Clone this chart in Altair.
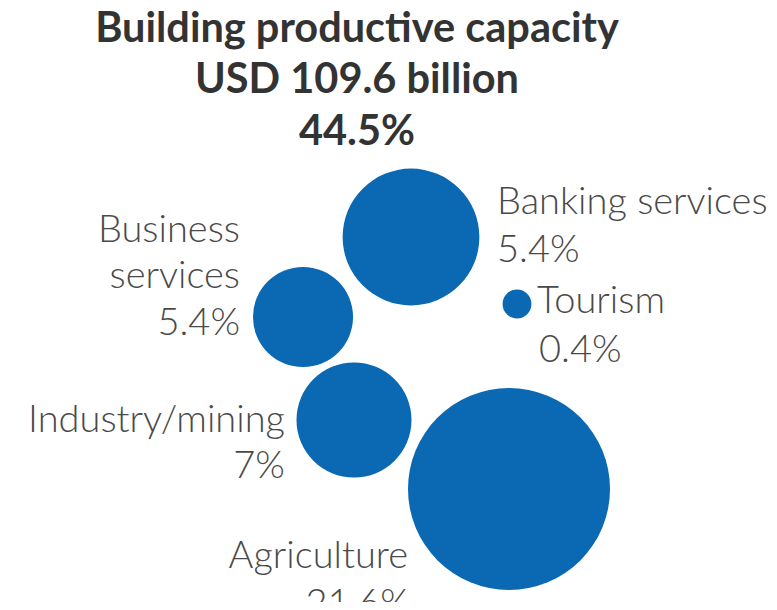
import altair as alt
import pandas as pd

# Bubbles (sector, displayed share, bubble size, layout position)
sectors = ["Agriculture", "Industry/mining", "Business services", "Banking services", "Tourism"]
share_labels = ["21.6%", "7%", "5.4%", "5.4%", "0.4%"]
bubble_size = [21.6, 7.0, 5.3, 9.9, 0.44]
bubble_x = [509, 354, 303, 411, 517]
bubble_y = [489, 420, 317, 237, 304]

# Label lines
label_text = ["Banking services", "5.4%", "Tourism", "0.4%",
              "Business", "services", "5.4%",
              "Industry/mining", "7%", "Agriculture", "21.6%"]
label_x = [497, 497, 537, 539, 240, 240, 240, 285, 285, 408, 410]
label_y = [214, 262, 313, 362, 242, 288, 335, 432, 478, 568, 616]
label_align = ["left", "left", "left", "left", "right", "right", "right",
               "right", "right", "right", "right"]

# Title lines
title_text = ["Building productive capacity", "USD 109.6 billion", "44.5%"]
title_x = [357, 357, 357]
title_y = [42, 93, 145]

bubbles = pd.DataFrame({"sector": sectors, "share": share_labels, "size": bubble_size,
                        "x": bubble_x, "y": bubble_y})
labels = pd.DataFrame({"text": label_text, "x": label_x, "y": label_y, "align": label_align})
titles = pd.DataFrame({"text": title_text, "x": title_x, "y": title_y})

xs = alt.Scale(domain=[8, 769])
ys = alt.Scale(domain=[602, 8])

circles = alt.Chart(bubbles).mark_circle(opacity=1, color="#0a69b2").encode(
    x=alt.X("x:Q", scale=xs, axis=None),
    y=alt.Y("y:Q", scale=ys, axis=None),
    size=alt.Size("size:Q", scale=alt.Scale(type="linear", zero=True, domain=[0, 21.6],
                                            range=[0, 40804]), legend=None),
)

label_font = dict(baseline="alphabetic", font="Lato", fontWeight=300, fontSize=38,
                  color="#4a4a4a")

left_labels = alt.Chart(labels).transform_filter(alt.datum.align == "left").mark_text(
    align="left", **label_font).encode(
    x=alt.X("x:Q", scale=xs, axis=None), y=alt.Y("y:Q", scale=ys, axis=None), text="text:N")

right_labels = alt.Chart(labels).transform_filter(alt.datum.align == "right").mark_text(
    align="right", **label_font).encode(
    x=alt.X("x:Q", scale=xs, axis=None), y=alt.Y("y:Q", scale=ys, axis=None), text="text:N")

title_marks = alt.Chart(titles).mark_text(
    align="center", baseline="alphabetic", font="Lato", fontWeight="bold", fontSize=41.5,
    color="#333333").encode(
    x=alt.X("x:Q", scale=xs, axis=None), y=alt.Y("y:Q", scale=ys, axis=None), text="text:N")

chart = alt.layer(circles, left_labels, right_labels, title_marks).properties(
    width=761, height=594, padding=0, autosize=alt.AutoSizeParams(type="none")
).configure_view(stroke=None)

chart.save("out.html", embed_options={"renderer": "svg", "actions": False})
